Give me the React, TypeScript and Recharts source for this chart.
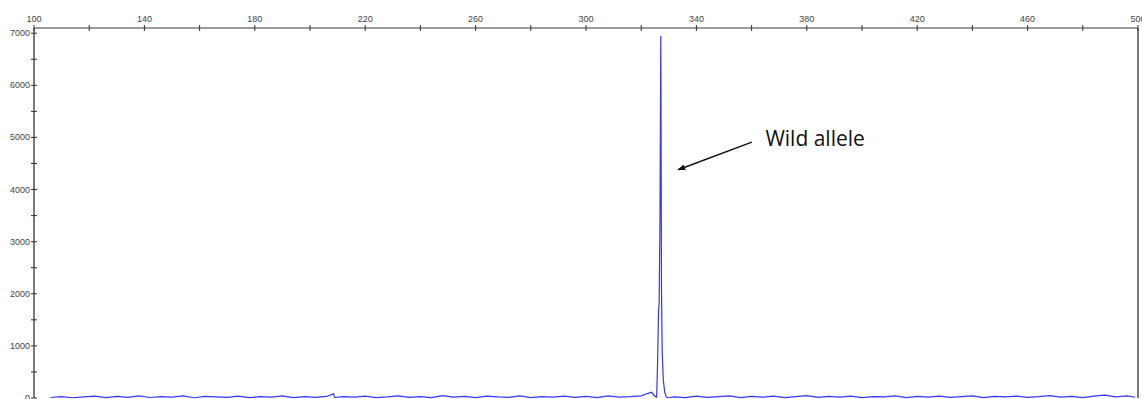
import {
    LineChart,
    Line,
    XAxis,
    YAxis,
    ReferenceLine,
    ReferenceDot,
} from "recharts";

// fragment size (bp) and signal (RFU)
const noiseSizes = [
    106, 110, 114, 118, 122, 126, 130, 134, 138, 142, 146, 150, 154, 158, 162, 166, 170, 174, 178, 182,
    186, 190, 194, 198, 202, 206, 208.5, 209, 212, 216, 220, 224, 228, 232, 236, 240, 244, 248, 252, 256,
    260, 264, 268, 272, 276, 280, 284, 288, 292, 296, 300, 304, 308, 312, 316, 320, 322.5, 323.8, 324.8,
];
const noiseRfu = [
    10, 25, 5, 20, 35, 8, 30, 12, 40, 10, 25, 15, 40, 5, 30, 20, 12, 35, 8, 25,
    15, 40, 8, 25, 12, 30, 80, 10, 25, 15, 35, 8, 20, 40, 12, 25, 8, 45, 15, 30,
    8, 35, 20, 12, 40, 8, 25, 15, 35, 12, 30, 8, 40, 15, 25, 40, 90, 110, 40,
];
const peakSizes = [325.6, 325.9, 326.3, 326.5, 326.8, 327.1, 327.35, 327.6, 328.0, 328.5, 329.0, 329.6];
const peakRfu = [20, 600, 1700, 1800, 3400, 6950, 2100, 900, 350, 120, 30, 5];
const tailSizes = [
    332, 336, 340, 344, 348, 352, 356, 360, 364, 368, 372, 376, 380, 384, 388, 392, 396, 400, 404, 408,
    412, 416, 420, 424, 428, 432, 436, 440, 444, 448, 452, 456, 460, 464, 468, 472, 476, 480, 484, 488,
    492, 496, 499,
];
const tailRfu = [
    20, 8, 35, 12, 25, 40, 8, 30, 15, 35, 8, 25, 45, 12, 30, 15, 35, 8, 25, 20,
    40, 8, 30, 15, 35, 12, 25, 40, 8, 30, 20, 35, 12, 25, 45, 15, 30, 8, 35, 55,
    20, 40, 15,
];

const xTicks = [100, 120, 140, 160, 180, 200, 220, 240, 260, 280, 300, 320, 340, 360, 380, 400, 420, 440, 460, 480, 500];
const yTicks = [0, 500, 1000, 1500, 2000, 2500, 3000, 3500, 4000, 4500, 5000, 5500, 6000, 6500, 7000];

const data = [
    ...noiseSizes.map((s, i) => ({ size: s, rfu: noiseRfu[i] })),
    ...peakSizes.map((s, i) => ({ size: s, rfu: peakRfu[i] })),
    ...tailSizes.map((s, i) => ({ size: s, rfu: tailRfu[i] })),
].sort((a, b) => a.size - b.size);

const axisGray = "#7a7a7a";
const labelFont = "'Liberation Sans', Arial, sans-serif";

const XTick = ({ x, y, payload }: any) => {
    const labelled = (payload.value - 100) % 40 === 0;
    return (
        <g>
            <line x1={x} x2={x} y1={y - 3} y2={y + 3} stroke="#333" strokeWidth={1} />
            {labelled && (
                <text x={x} y={y - 6} textAnchor="middle" fontSize={9} fontFamily={labelFont} fill="#444">
                    {payload.value}
                </text>
            )}
        </g>
    );
};

const YTick = ({ x, y, payload }: any) => {
    const labelled = payload.value % 1000 === 0;
    return (
        <g>
            <line x1={x - 3} x2={x + 3} y1={y} y2={y} stroke="#333" strokeWidth={1} />
            {labelled && (
                <text x={x - 4} y={y + 3} textAnchor="end" fontSize={9} fontFamily={labelFont} fill="#444">
                    {payload.value}
                </text>
            )}
        </g>
    );
};

const Arrow = (props: any) => (
    <line
        x1={props.x1}
        y1={props.y1}
        x2={props.x2}
        y2={props.y2}
        stroke="#111"
        strokeWidth={1.5}
        markerEnd="url(#arrowHead)"
    />
);

const Note = (props: any) => (
    <text x={props.cx} y={props.cy} fontSize={21} fontFamily="'Open Sans', sans-serif" fill="#111">
        Wild allele
    </text>
);

export default function App() {
    return (
        <div style={{ width: 1142, height: 399, background: "#fff" }}>
            <style>{`body{margin:0}`}</style>
            <LineChart width={1142} height={399} data={data} margin={{ top: 0, right: 4, left: 0, bottom: 1 }}>
                <defs>
                    <marker id="arrowHead" markerWidth="8" markerHeight="6" refX="7" refY="3" orient="auto" markerUnits="userSpaceOnUse">
                        <path d="M0,0 L8,3 L0,6 Z" fill="#111" />
                    </marker>
                </defs>
                <XAxis
                    dataKey="size"
                    type="number"
                    orientation="top"
                    domain={[100, 500]}
                    ticks={xTicks}
                    interval={0}
                    height={28}
                    tickSize={0}
                    tickMargin={0}
                    tick={<XTick />}
                    axisLine={{ stroke: axisGray, strokeWidth: 1.5 }}
                />
                <YAxis
                    type="number"
                    domain={[0, 7100]}
                    ticks={yTicks}
                    interval={0}
                    width={34}
                    tickSize={0}
                    tickMargin={0}
                    tick={<YTick />}
                    axisLine={{ stroke: axisGray, strokeWidth: 2 }}
                />
                <ReferenceLine x={500} stroke={axisGray} strokeWidth={2} />
                <Line
                    type="linear"
                    dataKey="rfu"
                    stroke="#3535ff"
                    strokeWidth={1.2}
                    dot={false}
                    isAnimationActive={false}
                />
                <ReferenceLine
                    segment={[{ x: 360.1, y: 4910 }, { x: 333.4, y: 4380 }]}
                    shape={<Arrow />}
                />
                <ReferenceDot x={365} y={4840} r={0} shape={<Note />} />
            </LineChart>
        </div>
    );
}
